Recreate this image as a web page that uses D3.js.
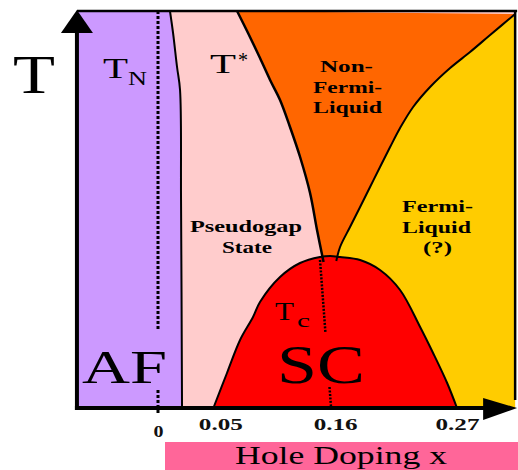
<!DOCTYPE html>
<html>
<head>
<meta charset="utf-8">
<script src="https://cdn.jsdelivr.net/npm/d3@7"></script>
<style>
  body { margin: 0; background: #fff; }
  text { font-family: "Liberation Serif", "Times New Roman", serif; }
</style>
</head>
<body>
<div class="container"></div>
<script>
// doping axis ticks
const dopingTicks = [0, 0.05, 0.16, 0.27];
const dopingLabels = ["0", "0.05", "0.16", "0.27"];

// extent of the diagram (hole doping x, temperature in arbitrary units)
const dopingRange = [-0.0732, 0.3225];
const tempRange = [0, 397];

// T_N : antiferromagnet boundary
const tnX = [0.0108, 0.0136, 0.0172, 0.0199, 0.0208, 0.0217];
const tnT = [397, 375, 341, 318, 208, 0];

// T* : pseudogap boundary
const tStarX = [0.0714, 0.0813, 0.0921, 0.1012, 0.1102, 0.1192, 0.1283, 0.1373, 0.1436, 0.1495];
const tStarT = [397, 375, 350, 328, 308, 281, 251, 215, 178, 146];

// crossover to Fermi liquid
const flX = [0.3225, 0.2999, 0.2818, 0.2638, 0.2457, 0.2304, 0.2186, 0.2096, 0.2005, 0.1915, 0.1825, 0.1734, 0.1644, 0.1610];
const flT = [394, 373, 356, 340, 321, 301, 280, 261, 241, 221, 201, 181, 161, 147];

// T_c : superconducting dome
const scX = [0.05, 0.0623, 0.0741, 0.0858, 0.0921, 0.1102, 0.1283, 0.1463, 0.1554, 0.1644, 0.1825, 0.2005, 0.2186, 0.2367, 0.2484, 0.2611, 0.27];
const scT = [0, 35, 68, 91, 106, 131, 145, 151, 152, 151, 148, 138, 118, 81, 55, 25, 0];

// dotted guides
const tnDotX = [0, 0];
const tnDotT = [397, -5];
const tcDotX = [0.1463, 0.1563];
const tcDotT = [148, 0];

const W = 518, H = 470;

const svg = d3.select(".container").append("svg")
    .attr("width", W)
    .attr("height", H)
    .style("display", "block");

//scales
const x = d3.scaleLinear().domain([0, 0.27]).range([158, 457]);
const y = d3.scaleLinear().domain([0, 400]).range([408, 8]);

const xL = dopingRange[0], xR = dopingRange[1];
const tTop = tempRange[1], t0 = tempRange[0];

const curve = d3.line()
    .x(d => x(d[0]))
    .y(d => y(d[1]))
    .curve(d3.curveCatmullRom.alpha(0.5));

// curve + straight closing points
function region(pts, extra) {
  return curve(pts) + extra.map(p => `L${x(p[0])},${y(p[1])}`).join("") + "Z";
}

const tn = d3.zip(tnX, tnT);
const tStar = d3.zip(tStarX, tStarT);
const fl = d3.zip(flX, flT);
const sc = d3.zip(scX, scT);

const plot = svg.append("g");

// pseudogap background
plot.append("rect")
    .attr("x", x(xL))
    .attr("y", y(tTop))
    .attr("width", x(xR) - x(xL))
    .attr("height", y(t0) - y(tTop))
    .attr("fill", "#FFCCCC");

// AF
plot.append("path")
    .attr("d", region(tn, [[xL, t0], [xL, tTop]]))
    .attr("fill", "#CC99FF");

// non-Fermi liquid
plot.append("path")
    .attr("d", curve(tStar) + "L" + curve(fl.slice().reverse()).slice(1) + "Z")
    .attr("fill", "#FF6600");

// Fermi liquid
plot.append("path")
    .attr("d", region(fl, [[0.2, t0], [xR, t0]]))
    .attr("fill", "#FFCC00");

// SC dome
plot.append("path")
    .attr("d", curve(sc) + "Z")
    .attr("fill", "#FF0000");

//boundary lines
[[tn, 2], [tStar, 2.5], [fl, 2], [sc, 2]].forEach(([pts, w]) => {
  plot.append("path")
      .attr("d", curve(pts))
      .attr("fill", "none")
      .attr("stroke", "#000")
      .attr("stroke-width", w);
});

// dotted guides, with gaps behind the big labels
function dotted(xs, ts, gaps, w, dash) {
  const ip = d3.interpolateNumber(xs[0], xs[1]);
  const segs = [];
  let from = ts[0];
  gaps.concat([[ts[1], ts[1]]]).forEach(g => {
    segs.push([from, g[0]]);
    from = g[1];
  });
  segs.forEach(([a, b]) => {
    const fa = (a - ts[0]) / (ts[1] - ts[0]), fb = (b - ts[0]) / (ts[1] - ts[0]);
    plot.append("line")
        .attr("x1", x(ip(fa))).attr("y1", y(a))
        .attr("x2", x(ip(fb))).attr("y2", y(b))
        .attr("stroke", "#000")
        .attr("stroke-width", w)
        .attr("stroke-dasharray", dash);
  });
}
dotted(tnDotX, tnDotT, [[78, 18]], 3, "3,2");
dotted(tcDotX, tcDotT, [[76, 21]], 2.5, "2,1.5");

// frame
plot.append("line")
    .attr("x1", x(xL)).attr("y1", y(tTop))
    .attr("x2", x(xR) + 2).attr("y2", y(tTop))
    .attr("stroke", "#000").attr("stroke-width", 2.5);
plot.append("line")
    .attr("x1", x(xR)).attr("y1", y(tTop))
    .attr("x2", x(xR)).attr("y2", y(t0) - 8)
    .attr("stroke", "#000").attr("stroke-width", 2.5);

// T axis with arrow
plot.append("line")
    .attr("x1", x(xL)).attr("y1", y(t0) + 2)
    .attr("x2", x(xL)).attr("y2", y(tTop) + 20)
    .attr("stroke", "#000").attr("stroke-width", 4);
plot.append("path")
    .attr("d", `M${x(xL) - 16},${y(tTop) + 22}L${x(xL)},${y(tTop) - 1}L${x(xL) + 16},${y(tTop) + 22}Z`)
    .attr("fill", "#000");

// doping axis with arrow
plot.append("line")
    .attr("x1", x(xL) - 2).attr("y1", y(t0))
    .attr("x2", x(xR) - 30).attr("y2", y(t0))
    .attr("stroke", "#000").attr("stroke-width", 4);
plot.append("path")
    .attr("d", `M${x(xR) - 32},${y(t0) - 10}L${x(xR) + 2},${y(t0)}L${x(xR) - 32},${y(t0) + 12}Z`)
    .attr("fill", "#000");

const xAxis = d3.axisBottom(x)
    .tickValues(dopingTicks)
    .tickFormat((d, i) => dopingLabels[i])
    .tickSize(0);

const xAxisGroup = svg.append("g")
    .attr("transform", `translate(0, ${y(t0)})`)
    .call(xAxis);
xAxisGroup.select(".domain").remove();
xAxisGroup.selectAll("text")
    .attr("y", d => d === 0 ? 29 : 22)
    .attr("dy", 0)
    .attr("dx", d => d === 0.05 ? 7 : 0)
    .attr("fill", "#111")
    .attr("textLength", d => d === 0 ? 10 : 44)
    .attr("lengthAdjust", "spacingAndGlyphs")
    .style("font-family", "'Liberation Serif', serif")
    .style("font-size", "16px")
    .style("font-weight", "bold");

// x label box
svg.append("rect")
    .attr("x", 165).attr("y", 442)
    .attr("width", W - 165).attr("height", H - 442)
    .attr("fill", "#FF6699");

//text helper: left edge, baseline, size, stretched width
function label(t, lx, by, size, w, bold) {
  svg.append("text")
      .attr("x", lx)
      .attr("y", by)
      .attr("textLength", w)
      .attr("lengthAdjust", "spacingAndGlyphs")
      .style("font-size", size + "px")
      .style("font-weight", bold ? "bold" : "normal")
      .attr("fill", "#000")
      .text(t);
}

label("Hole Doping x", 235, 464, 25, 212);
label("T", 13, 93, 54, 42);
label("T", 103, 78, 30, 25);
label("N", 128, 85, 19, 19);
label("T", 210, 73, 28, 26);
label("*", 238, 67, 20, 10);
label("Non-", 320, 72, 17, 53, true);
label("Fermi-", 313, 93, 17, 69, true);
label("Liquid", 313, 113, 17, 69, true);
label("Pseudogap", 190, 232, 17, 112, true);
label("State", 222, 253, 17, 50, true);
label("Fermi-", 402, 212, 17, 71, true);
label("Liquid", 402, 233, 17, 69, true);
label("(?)", 423, 253, 17, 29, true);
label("T", 275, 320, 26, 19);
label("c", 297, 327, 19, 13);
label("AF", 82, 383, 47, 85);
label("SC", 277, 383, 54, 88);
</script>
</body>
</html>
